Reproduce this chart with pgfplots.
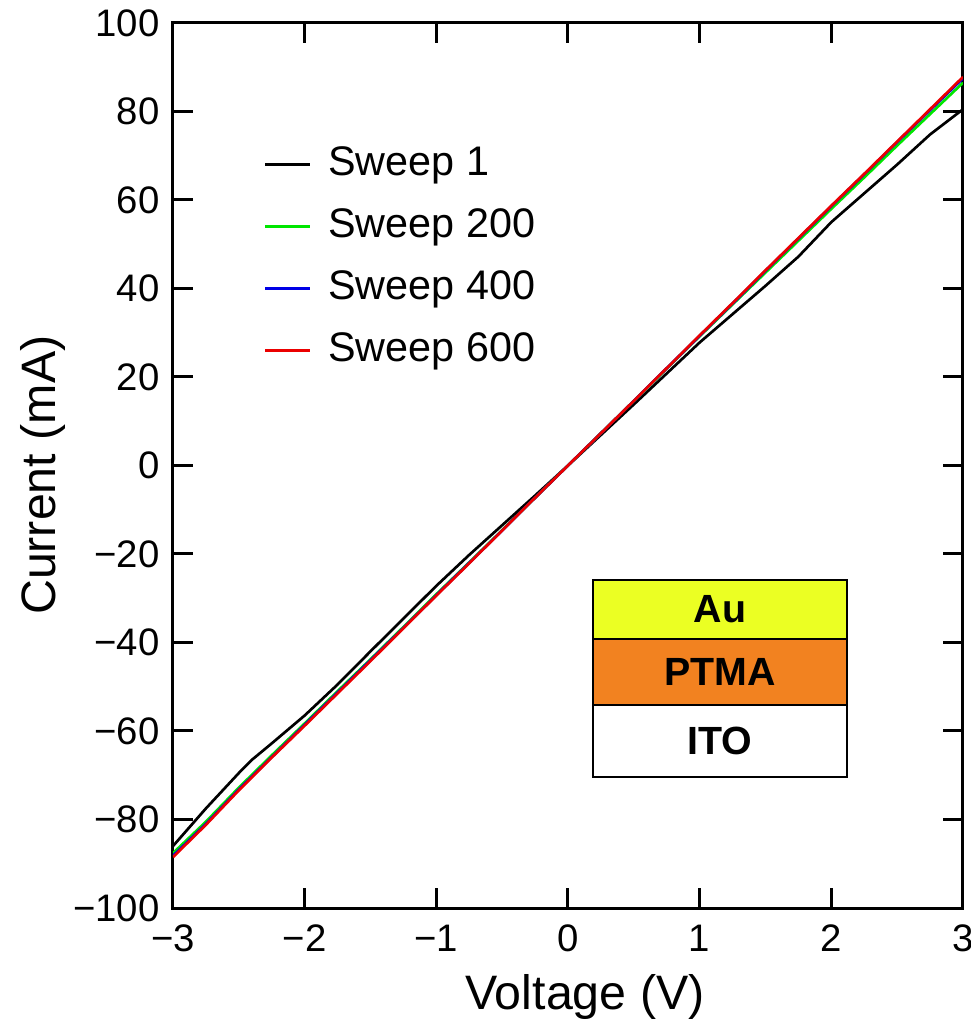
\documentclass[border=0pt]{standalone}
\usepackage{fontspec}
\setmainfont{Liberation Sans}
\usepackage{pgfplots}
\pgfplotsset{compat=1.18}
\definecolor{auyellow}{RGB}{235,255,35}
\definecolor{ptmaorange}{RGB}{242,130,32}
\definecolor{swgreen}{RGB}{0,230,0}
\definecolor{swblue}{RGB}{0,0,230}
\definecolor{swred}{RGB}{235,0,0}
\begin{document}
\begin{tikzpicture}
\begin{axis}[
  scale only axis,
  width=237pt, height=265.5pt,
  xmin=-3, xmax=3, ymin=-100, ymax=100,
  xtick={-3,-2,-1,0,1,2,3},
  xticklabels={−3,−2,−1,0,1,2,3},
  ytick={-100,-80,-60,-40,-20,0,20,40,60,80,100},
  yticklabels={−100,−80,−60,−40,−20,0,20,40,60,80,100},
  tick align=inside,
  major tick length=6pt,
  tick style={line width=0.9pt, black},
  axis line style={line width=0.9pt},
  ticklabel style={font=\fontsize{11.5}{13}\selectfont},
  xticklabel style={yshift=-1.5pt},
  yticklabel style={xshift=-0.5pt},
  xlabel={Voltage (V)},
  ylabel={Current (mA)},
  label style={font=\fontsize{14.5}{17}\selectfont},
  xlabel style={at={(axis description cs:0.5215,-0.1)}, anchor=center},
  ylabel style={at={(axis description cs:-0.165,0.489)}, anchor=center, rotate=0},
  legend cell align=left,
  legend style={draw=none, fill=none, at={(axis cs:-2.39,74)}, anchor=north west,
    font=\fontsize{12.4}{14}\selectfont, row sep=7.1pt,
    nodes={inner sep=0pt, text height=9pt, text depth=2.5pt}},
  legend image code/.code={\draw[#1, line width=0.8pt] (0pt,0pt) -- (13.5pt,0pt); \path (18.5pt,0pt);},
]
\addplot[black, line width=0.8pt] coordinates {
(-3,-86.0) (-2.75,-77.5) (-2.5,-69.5) (-2.4,-66.5) (-2.25,-62.8) (-2,-56.5) (-1.75,-49.5) (-1.5,-42.0) (-1.25,-34.6) (-1,-27.2) (-0.75,-20.2) (-0.5,-13.5) (-0.25,-6.8) (0,0) (0.25,6.9) (0.5,13.8) (0.75,20.8) (1,27.8) (1.25,34.2) (1.5,40.6) (1.75,47.2) (2,55.0) (2.25,61.5) (2.5,68.0) (2.75,74.8) (3,80.5)
};
\addlegendentry{Sweep 1}
\addplot[swgreen, line width=0.8pt] coordinates {
(-3,-87.6) (-2.75,-80.5) (-2.5,-72.8) (-2.25,-65.5) (-2,-58.3) (-1.75,-51.0) (-1.5,-43.8) (-1.25,-36.5) (-1,-29.1) (-0.75,-21.9) (-0.5,-14.6) (-0.25,-7.3) (0,0) (0.25,7.3) (0.5,14.6) (0.75,21.9) (1,29.2) (1.25,36.4) (1.5,43.6) (1.75,50.8) (2,58.0) (2.25,65.1) (2.5,72.3) (2.75,79.4) (3,86.5)
};
\addlegendentry{Sweep 200}
\addplot[swblue, line width=0.8pt] coordinates {
(-3,-88.2) (-2.75,-81.0) (-2.5,-73.2) (-2.25,-65.9) (-2,-58.6) (-1.75,-51.3) (-1.5,-44.0) (-1.25,-36.7) (-1,-29.3) (-0.75,-22.0) (-0.5,-14.7) (-0.25,-7.3) (0,0) (0.25,7.3) (0.5,14.6) (0.75,22.0) (1,29.3) (1.25,36.6) (1.5,44.0) (1.75,51.3) (2,58.6) (2.25,65.8) (2.5,73.1) (2.75,80.3) (3,87.5)
};
\addlegendentry{Sweep 400}
\addplot[swred, line width=0.8pt] coordinates {
(-3,-88.5) (-2.75,-81.2) (-2.5,-73.4) (-2.25,-66.0) (-2,-58.8) (-1.75,-51.5) (-1.5,-44.2) (-1.25,-36.8) (-1,-29.4) (-0.75,-22.1) (-0.5,-14.7) (-0.25,-7.3) (0,0) (0.25,7.3) (0.5,14.6) (0.75,22.0) (1,29.4) (1.25,36.7) (1.5,44.1) (1.75,51.4) (2,58.7) (2.25,65.9) (2.5,73.2) (2.75,80.5) (3,87.8)
};
\addlegendentry{Sweep 600}
\draw[line width=0.8pt, fill=auyellow] (axis cs:0.19,-39.2) rectangle (axis cs:2.12,-25.9);
\draw[line width=0.8pt, fill=ptmaorange] (axis cs:0.19,-54.1) rectangle (axis cs:2.12,-39.2);
\draw[line width=0.8pt, fill=white] (axis cs:0.19,-70.4) rectangle (axis cs:2.12,-54.1);
\node[font=\fontsize{11.8}{14}\selectfont\bfseries] at (axis cs:1.155,-32.55) {Au};
\node[font=\fontsize{11.8}{14}\selectfont\bfseries] at (axis cs:1.155,-46.65) {PTMA};
\node[font=\fontsize{11.8}{14}\selectfont\bfseries] at (axis cs:1.155,-62.25) {ITO};
\end{axis}
\node[anchor=east, font=\fontsize{11.5}{13}\selectfont] at (-48.3pt,-10.2pt) {3};
\pgfresetboundingbox
\useasboundingbox (-51.9pt,-35.1pt) rectangle (239.4pt,272.4pt);
\end{tikzpicture}
\end{document}
